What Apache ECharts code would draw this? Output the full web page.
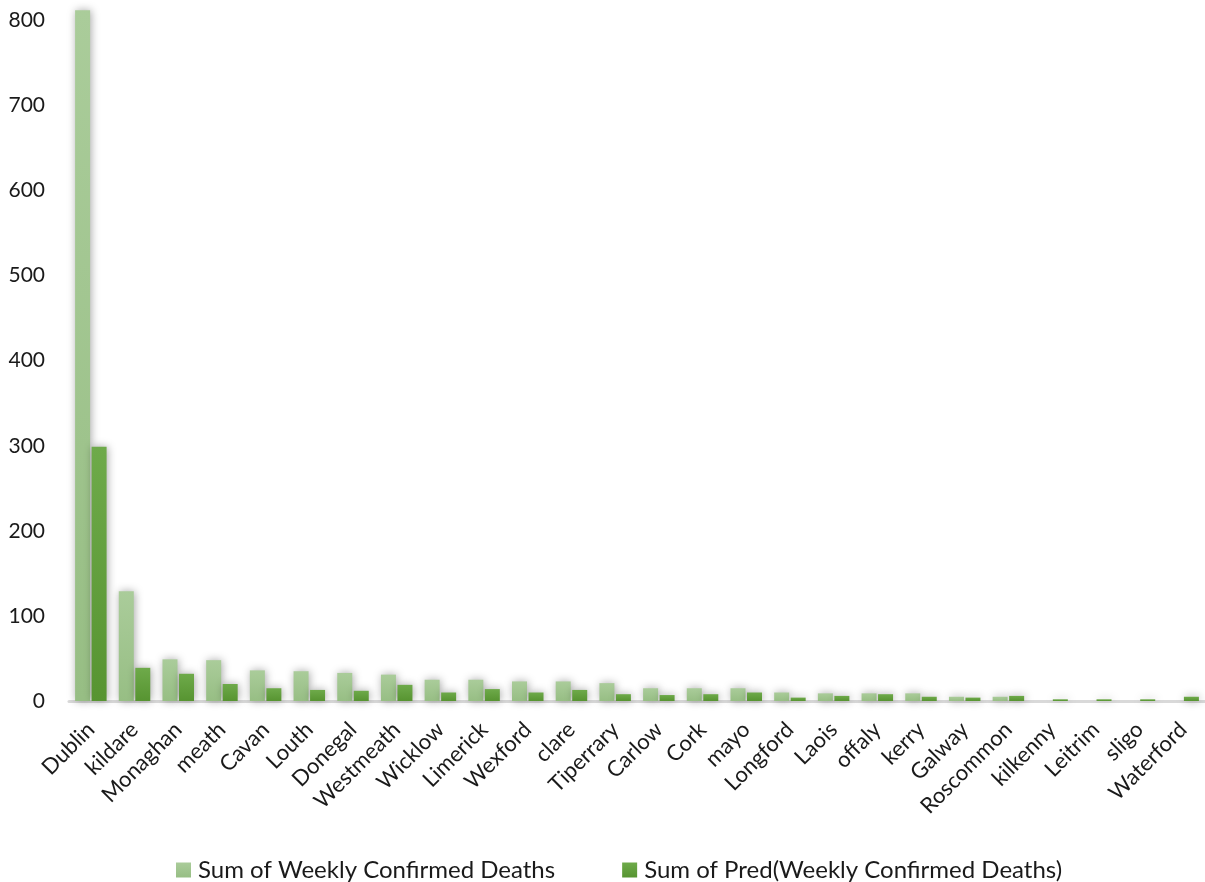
<!DOCTYPE html>
<html>
<head>
<meta charset="utf-8">
<script src="https://cdn.jsdelivr.net/npm/echarts@6/dist/echarts.min.js"></script>
<style>
  html, body { margin: 0; padding: 0; background: #fff; }
  #chart { width: 1205px; height: 882px; }
</style>
</head>
<body>
<div id="chart"></div>
<script>
const counties = ['Dublin', 'kildare', 'Monaghan', 'meath', 'Cavan', 'Louth', 'Donegal', 'Westmeath', 'Wicklow',
  'Limerick', 'Wexford', 'clare', 'Tiperrary', 'Carlow', 'Cork', 'mayo', 'Longford', 'Laois', 'offaly', 'kerry',
  'Galway', 'Roscommon', 'kilkenny', 'Leitrim', 'sligo', 'Waterford']
const confirmedDeaths = [812, 129, 49, 48, 36, 35, 33, 31, 25, 25, 23, 23, 21, 15, 15, 15, 10, 9, 9, 9, 5, 5, 0, 0, 0, 0]
const predDeaths = [299, 39, 32, 20, 15, 13, 12, 19, 10, 14, 10, 13, 8, 7, 8, 10, 4, 6, 8, 5, 4, 6, 2, 2, 2, 5]
const seriesNames = ['Sum of Weekly Confirmed Deaths', 'Sum of Pred(Weekly Confirmed Deaths)']

const font = 'Lato, "Open Sans", sans-serif'

const chart = echarts.init(document.getElementById('chart'))

const lightFill = new echarts.graphic.LinearGradient(0, 0, 0, 1, [
  { offset: 0, color: '#aacc9a' },
  { offset: 1, color: '#97be84' }
])
const darkFill = new echarts.graphic.LinearGradient(0, 0, 0, 1, [
  { offset: 0, color: '#6eaa4a' },
  { offset: 1, color: '#579431' }
])

const barShadow = {
  shadowBlur: 8,
  shadowColor: 'rgba(0, 0, 0, 0.35)',
  shadowOffsetX: 1,
  shadowOffsetY: 0
}

const option = {
  animation: false,
  backgroundColor: '#fff',
  grid: {
    left: 69,
    top: 0,
    width: 1144,
    height: 701,
    containLabel: false
  },
  legend: {
    left: 171,
    top: 853,
    itemWidth: 15,
    itemHeight: 15,
    itemGap: 67,
    icon: 'rect',
    textStyle: {
      fontFamily: font,
      fontSize: 24,
      padding: [0, 0, 0, 2],
      color: '#1a1a1a'
    },
    data: seriesNames
  },
  xAxis: {
    type: 'category',
    data: counties,
    axisLine: { lineStyle: { color: '#d9d9d9', width: 3 } },
    axisTick: { show: false },
    axisLabel: {
      interval: 0,
      rotate: 45,
      margin: 25,
      fontFamily: font,
      fontSize: 22,
      color: '#1a1a1a'
    }
  },
  yAxis: {
    type: 'value',
    min: 0,
    max: 824,
    interval: 100,
    splitLine: { show: false },
    axisLine: { show: false },
    axisTick: { show: false },
    axisLabel: {
      showMaxLabel: false,
      margin: 24,
      fontFamily: font,
      fontSize: 21,
      color: '#1a1a1a'
    }
  },
  series: [
    {
      name: seriesNames[0],
      type: 'bar',
      data: confirmedDeaths,
      barWidth: 15,
      barGap: '10%',
      itemStyle: Object.assign({ color: lightFill }, barShadow)
    },
    {
      name: seriesNames[1],
      type: 'bar',
      data: predDeaths,
      barWidth: 15,
      itemStyle: Object.assign({ color: darkFill }, barShadow)
    }
  ]
}

chart.setOption(option)
</script>
</body>
</html>
